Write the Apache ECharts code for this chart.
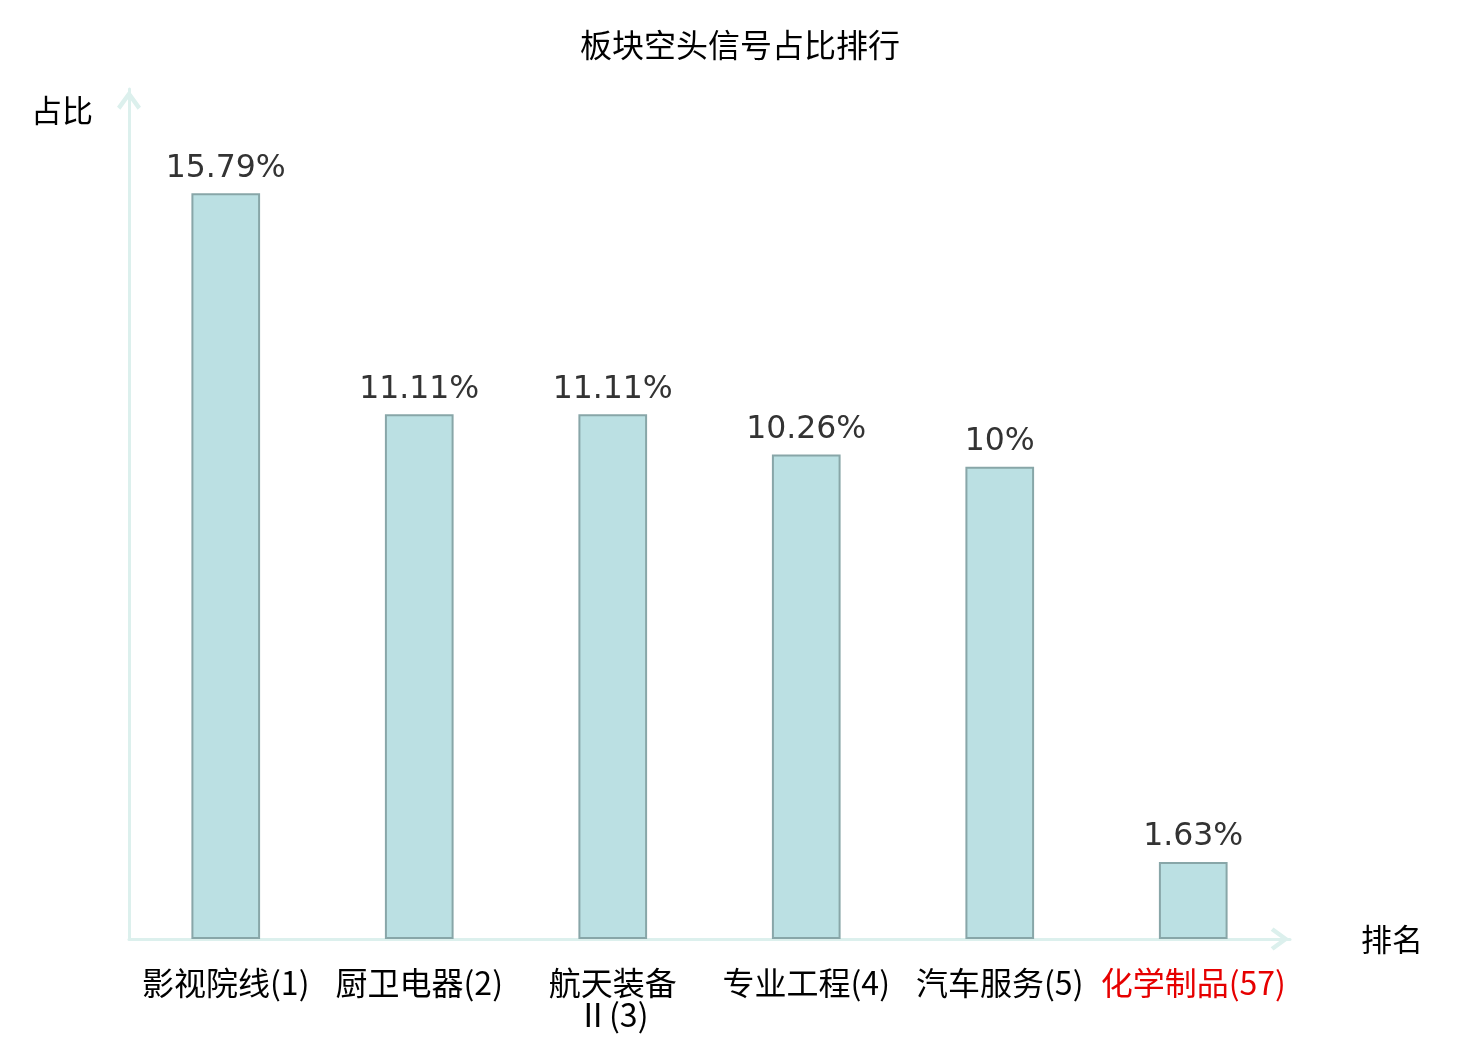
<!DOCTYPE html>
<html><head><meta charset="utf-8">
<script src="https://cdn.jsdelivr.net/npm/echarts@6/dist/echarts.min.js"></script>
<style>html,body{margin:0;padding:0;background:#fff}#c{width:1480px;height:1040px}</style>
</head><body><div id="c"></div>
<script>
const titleText = '板块空头信号占比排行';
const categories = ['影视院线(1)', '厨卫电器(2)', '航天装备\nⅡ(3)', '专业工程(4)', '汽车服务(5)', '化学制品(57)'];
const values = [15.79, 11.11, 11.11, 10.26, 10, 1.63];
const highlightIndex = 5;

const chevron = 'path://M12,0 L24,16.5 L20.6,19.5 L12,7.6 L3.4,19.5 L0,16.5 Z';
const axisColor = '#dcf0ed';

const chart = echarts.init(document.getElementById('c'));
chart.setOption({
  backgroundColor: '#fff',
  animation: false,
  title: {
    text: titleText, left: 'center', top: 24,
    textStyle: { fontSize: 32, fontWeight: 'normal', color: '#000', fontFamily: 'Noto Sans CJK SC' }
  },
  grid: { left: 129, right: 190, top: 89, bottom: 101, containLabel: false },
  xAxis: {
    type: 'category', data: categories,
    name: '排名', nameLocation: 'end', nameGap: 71,
    nameTextStyle: { fontSize: 31, color: '#000', fontFamily: 'Noto Sans CJK SC', align: 'left', verticalAlign: 'middle' },
    axisLine: { show: true, lineStyle: { color: axisColor, width: 3 }, symbol: ['none', chevron], symbolSize: [23, 20], symbolOffset: [0, -10] },
    axisTick: { show: false },
    axisLabel: {
      interval: 0, margin: 28, fontSize: 32, lineHeight: 32, fontFamily: 'Noto Sans CJK SC',
      color: function (v, i) { return i === highlightIndex ? '#e60000' : '#000'; }
    },
    splitLine: { show: false }
  },
  yAxis: {
    type: 'value', min: 0, max: 18,
    name: '占比', nameLocation: 'end', nameGap: -21,
    nameTextStyle: { fontSize: 31, color: '#000', fontFamily: 'Noto Sans CJK SC', align: 'right', verticalAlign: 'middle', padding: [0, 36, 0, 0] },
    axisLine: { show: true, lineStyle: { color: axisColor, width: 3 }, symbol: ['none', chevron], symbolSize: [24, 22], symbolOffset: [0, -11] },
    axisTick: { show: false }, axisLabel: { show: false }, splitLine: { show: false }
  },
  series: [{
    type: 'bar', data: values, barWidth: '35.5%',
    itemStyle: { color: '#bbe0e3', borderColor: '#88a6a8', borderWidth: 2 },
    label: {
      show: true, position: 'top', distance: 9, fontSize: 31.5, color: '#333',
      fontFamily: 'DejaVu Sans', formatter: p => p.value + '%'
    }
  }]
});
</script></body></html>
